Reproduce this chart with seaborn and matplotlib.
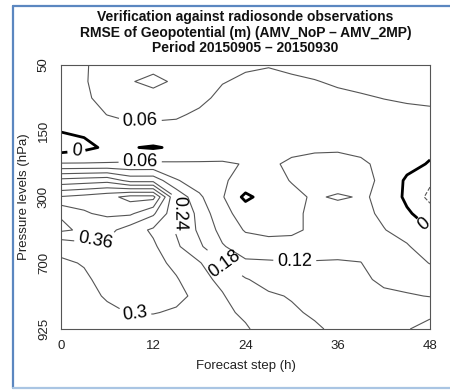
import numpy as np
import pandas as pd
import matplotlib
matplotlib.use("Agg")
import matplotlib.pyplot as plt
from matplotlib.lines import Line2D
import seaborn as sns

# ---------------- data ----------------
steps = [0, 3, 6, 9, 12, 15, 18, 21, 24, 27, 30, 33, 36, 39, 42, 45, 48]
level_pos = [0, 0.5, 1, 1.5, 2, 2.5, 3, 3.5, 4, 4.5, 5, 5.5, 6, 6.5, 7, 7.5, 8]
level_tick_pos = [0, 2, 4, 6, 8]
level_tick_labels = ["50", "150", "300", "700", "925"]
step_ticks = [0, 12, 24, 36, 48]
contour_levels = [-0.06, 0.0, 0.06, 0.12, 0.18, 0.24, 0.30, 0.36, 0.42, 0.48]

# RMSE difference for each forecast step (column), top (50 hPa) to bottom (925 hPa)
d_t00 = [0.040, 0.038, 0.030, 0.020, 0.002, -0.030, 0.065, 0.260, 0.425, 0.415, 0.430, 0.310, 0.295, 0.285, 0.275, 0.270, 0.265]
d_t03 = [0.055, 0.055, 0.050, 0.035, 0.010, -0.015, 0.065, 0.270, 0.440, 0.415, 0.410, 0.340, 0.302, 0.295, 0.285, 0.275, 0.265]
d_t06 = [0.080, 0.085, 0.080, 0.061, 0.030, 0.010, 0.065, 0.280, 0.460, 0.430, 0.380, 0.345, 0.325, 0.310, 0.305, 0.290, 0.270]
d_t09 = [0.075, 0.062, 0.075, 0.075, 0.040, 0.003, 0.068, 0.220, 0.500, 0.430, 0.330, 0.325, 0.330, 0.320, 0.310, 0.302, 0.280]
d_t12 = [0.070, 0.052, 0.072, 0.070, 0.045, -0.005, 0.070, 0.220, 0.500, 0.370, 0.290, 0.310, 0.320, 0.315, 0.310, 0.302, 0.280]
d_t15 = [0.078, 0.065, 0.075, 0.068, 0.040, 0.008, 0.068, 0.125, 0.230, 0.250, 0.235, 0.250, 0.285, 0.305, 0.310, 0.295, 0.275]
d_t18 = [0.080, 0.078, 0.075, 0.050, 0.035, 0.030, 0.065, 0.090, 0.130, 0.160, 0.170, 0.190, 0.245, 0.260, 0.290, 0.280, 0.265]
d_t21 = [0.075, 0.063, 0.045, 0.035, 0.030, 0.035, 0.065, 0.065, 0.065, 0.075, 0.100, 0.125, 0.182, 0.225, 0.245, 0.250, 0.255]
d_t24 = [0.068, 0.050, 0.040, 0.035, 0.030, 0.030, 0.058, 0.045, -0.015, 0.040, 0.055, 0.090, 0.130, 0.185, 0.200, 0.232, 0.245]
d_t27 = [0.063, 0.045, 0.035, 0.030, 0.030, 0.035, 0.050, 0.045, 0.030, 0.040, 0.050, 0.075, 0.130, 0.155, 0.190, 0.205, 0.220]
d_t30 = [0.070, 0.052, 0.040, 0.035, 0.035, 0.045, 0.070, 0.062, 0.050, 0.045, 0.050, 0.080, 0.125, 0.150, 0.175, 0.190, 0.200]
d_t33 = [0.075, 0.058, 0.045, 0.040, 0.040, 0.050, 0.080, 0.085, 0.065, 0.075, 0.070, 0.090, 0.125, 0.140, 0.155, 0.170, 0.190]
d_t36 = [0.080, 0.066, 0.050, 0.045, 0.045, 0.050, 0.085, 0.080, 0.055, 0.080, 0.085, 0.100, 0.125, 0.135, 0.145, 0.155, 0.165]
d_t39 = [0.080, 0.072, 0.055, 0.050, 0.045, 0.045, 0.070, 0.075, 0.063, 0.075, 0.085, 0.105, 0.121, 0.130, 0.140, 0.145, 0.150]
d_t42 = [0.080, 0.075, 0.061, 0.045, 0.040, 0.040, 0.045, 0.050, 0.055, 0.050, 0.062, 0.075, 0.095, 0.110, 0.130, 0.145, 0.160]
d_t45 = [0.080, 0.075, 0.065, 0.050, 0.040, 0.030, 0.020, -0.010, -0.015, 0.010, 0.040, 0.065, 0.085, 0.100, 0.125, 0.150, 0.175]
d_t48 = [0.085, 0.080, 0.070, 0.050, 0.035, 0.015, -0.005, -0.050, -0.075, -0.035, 0.002, 0.030, 0.058, 0.090, 0.118, 0.160, 0.210]

columns = [d_t00, d_t03, d_t06, d_t09, d_t12, d_t15, d_t18, d_t21, d_t24,
           d_t27, d_t30, d_t33, d_t36, d_t39, d_t42, d_t45, d_t48]

df = pd.DataFrame({s: c for s, c in zip(steps, columns)}, index=level_pos)

# label anchor points (step, level position) near which contour labels sit
label_spots = [(10.3, 1.75), (2.0, 2.6), (10.3, 2.95), (15.9, 4.5), (4.5, 5.3),
               (21.3, 6.0), (30.4, 5.85), (9.6, 7.5), (47.0, 4.9)]

# ---------------- style ----------------
sns.set_style("white")
plt.rcParams["font.family"] = ["Liberation Sans", "DejaVu Sans"]

fig = plt.figure(figsize=(4.5, 3.91), dpi=100)
W, H = 450, 391
ax = fig.add_axes([61 / W, 1 - 329 / H, (430 - 61) / W, (329 - 65) / H])

X, Y = np.meshgrid(df.columns.values.astype(float), df.index.values.astype(float))
Z = df.values

colors = ["#555555" if lv != 0 else "black" for lv in contour_levels]
widths = [2.0 if lv == 0 else 0.8 for lv in contour_levels]
styles = ["dashed" if lv < 0 else "solid" for lv in contour_levels]
cs = ax.contour(X, Y, Z, levels=contour_levels, colors=colors,
                linewidths=widths, linestyles=styles)
ax.clabel(cs, fmt=lambda v: f"{v:g}", fontsize=13, inline=True,
          inline_spacing=4, manual=label_spots, colors="black")

ax.set_xlim(0, 48)
ax.set_ylim(8, 0)
ax.set_xticks(step_ticks)
ax.set_xticklabels([str(s) for s in step_ticks], fontsize=9.5)
ax.set_yticks(level_tick_pos)
ax.set_yticks([1, 3, 5, 7], minor=True)
ax.set_yticklabels(level_tick_labels, fontsize=9.5, rotation=90, va="center")
ax.tick_params(axis="both", which="both", direction="out", length=5,
               width=0.8, color="#555555", labelcolor="#222222", pad=3)
ax.tick_params(top=False, right=False)
for sp in ax.spines.values():
    sp.set_color("#555555")
    sp.set_linewidth(0.8)

ax.set_xlabel("Forecast step (h)", fontsize=9.5, color="#222222", labelpad=6)
ax.set_ylabel("Pressure levels (hPa)", fontsize=9.5, color="#222222", labelpad=6)

fig.text(245.5 / W, 1 - 10 / H,
         "Verification against radiosonde observations\n"
         "RMSE of Geopotential (m) (AMV_NoP – AMV_2MP)\n"
         "Period 20150905 – 20150930",
         ha="center", va="top", fontsize=10, fontweight="bold",
         linespacing=1.15, color="#111111")

# light blue frame around the panel
fig.add_artist(Line2D([12.5 / W, 12.5 / W], [1 - 5.5 / H, 1 - 388 / H],
                      transform=fig.transFigure, color="#5b87c0", lw=1.6))
fig.add_artist(Line2D([12.5 / W, 1.0], [1 - 5.5 / H, 1 - 5.5 / H],
                      transform=fig.transFigure, color="#5b87c0", lw=1.6))
fig.add_artist(Line2D([12.5 / W, 1.0], [1 - 388 / H, 1 - 388 / H],
                      transform=fig.transFigure, color="#a9c5e3", lw=1.6))

fig.savefig("out.png", dpi=100)
